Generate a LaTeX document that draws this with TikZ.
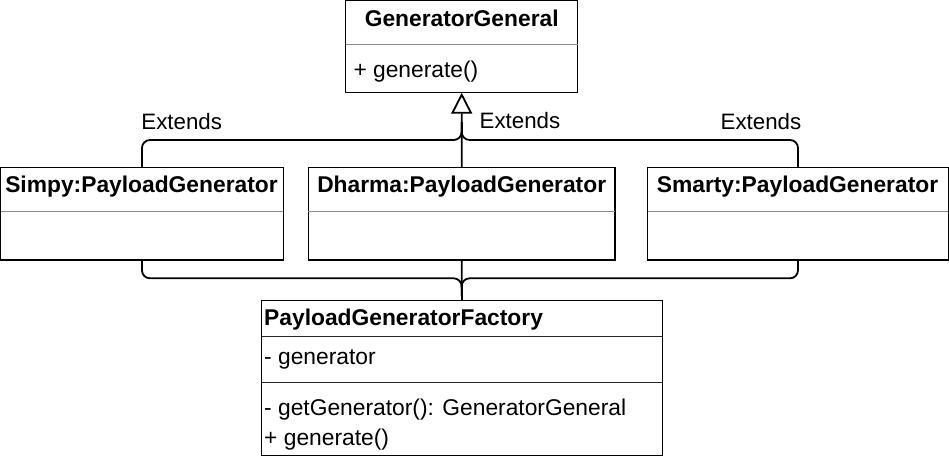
\documentclass[tikz,border=0pt]{standalone}
\usepackage{fontspec}
\setmainfont{Liberation Sans}
\usetikzlibrary{arrows.meta}
\begin{document}
\begin{tikzpicture}[x=1pt,y=-1pt,
  umlbox/.style={draw, line width=1.2pt, rectangle, inner sep=0pt, outer sep=0pt, anchor=north west},
  graydiv/.style={draw=black!45, line width=1pt},
  blackdiv/.style={draw=black!85, line width=1pt},
  titletext/.style={font=\fontsize{22.8pt}{27pt}\selectfont\bfseries, inner sep=0pt, anchor=base},
  lefttitle/.style={font=\fontsize{22.8pt}{27pt}\selectfont\bfseries, inner sep=0pt, anchor=base west},
  bodytext/.style={font=\fontsize{22.8pt}{27pt}\selectfont, inner sep=0pt, anchor=base west},
  labeltext/.style={font=\fontsize{22.3pt}{27pt}\selectfont, inner sep=0pt, anchor=base},
  conn/.style={draw, line width=1.8pt, rounded corners=8pt},
]
\useasboundingbox (0,0) rectangle (949,459);
\fill[white] (0,0) rectangle (949,459);

% boxes
\node[umlbox, minimum width=232pt, minimum height=92pt] (gg) at (345.7,0.7) {};
\node[umlbox, minimum width=282.7pt, minimum height=92.3pt] (simpy) at (0.6,167.7) {};
\node[umlbox, minimum width=306.7pt, minimum height=92.3pt] (dharma) at (308.3,167.7) {};
\node[umlbox, minimum width=300.6pt, minimum height=92.3pt] (smarty) at (647.7,167.7) {};
\node[umlbox, minimum width=400.6pt, minimum height=154.6pt] (fac) at (261.7,300.7) {};

% dividers
\draw[graydiv] ([yshift=-43.3pt]gg.north west) -- ([yshift=-43.3pt]gg.north east);
\draw[graydiv] ([yshift=-43.3pt]simpy.north west) -- ([yshift=-43.3pt]simpy.north east);
\draw[graydiv] ([yshift=-43.3pt]dharma.north west) -- ([yshift=-43.3pt]dharma.north east);
\draw[graydiv] ([yshift=-43.3pt]smarty.north west) -- ([yshift=-43.3pt]smarty.north east);
\draw[blackdiv] ([yshift=-35.3pt]fac.north west) -- ([yshift=-35.3pt]fac.north east);
\draw[blackdiv] ([yshift=-81.6pt]fac.north west) -- ([yshift=-81.6pt]fac.north east);

% texts
\node[titletext] (ggt) at (461.7,26) {GeneratorGeneral};
\node[bodytext] (ggm) at (353.3,77) {+ generate()};
\node[titletext] (simpyt) at (141.5,192) {Simpy:PayloadGenerator};
\node[titletext] (dharmat) at (461.7,192) {Dharma:PayloadGenerator};
\node[titletext] (smartyt) at (797.5,192) {Smarty:PayloadGenerator};
\node[lefttitle] (fact) at (264,325) {PayloadGeneratorFactory};
\node[bodytext] (faca) at (264,364) {- generator};
\node[bodytext] (facm1) at (264,415) {- getGenerator(): GeneratorGeneral};
\node[bodytext] (facm2) at (264,445) {+ generate()};

% labels
\node[labeltext] (ext1) at (181.7,129.3) {Extends};
\node[labeltext] (ext2) at (520,128.8) {Extends};
\node[labeltext] (ext3) at (761,129.3) {Extends};

% connector helpers
\coordinate (topbar) at (0,140);
\coordinate (topjoin) at (0,122);
\coordinate (botbar) at (0,278.3);
\coordinate (botjoin) at (0,296);

% inheritance connectors
\draw[line width=1.8pt, -{Triangle[open, length=21pt, width=21pt, line width=1.8pt]}] (dharma.north) -- (gg.south);
\draw[conn] (simpy.north) |- (dharma.north |- topbar) -- (dharma.north |- topjoin);
\draw[conn] (smarty.north) |- (dharma.north |- topbar) -- (dharma.north |- topjoin);

% factory connectors
\draw[line width=1.8pt] (dharma.south) -- (fac.north);
\draw[conn] (simpy.south) |- (dharma.south |- botbar) -- (dharma.south |- botjoin);
\draw[conn] (smarty.south) |- (dharma.south |- botbar) -- (dharma.south |- botjoin);
\end{tikzpicture}
\end{document}
